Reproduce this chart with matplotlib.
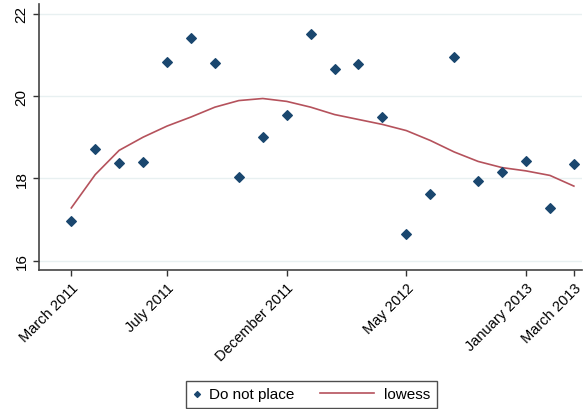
import matplotlib
matplotlib.use("Agg")
import matplotlib.pyplot as plt
from matplotlib.lines import Line2D
from matplotlib.legend_handler import HandlerLine2D

# Data (survey waves, in order)
idx = list(range(22))
do_not_place = [16.97, 18.72, 18.36, 18.39, 20.83, 21.41, 20.80, 18.03, 19.00, 19.53,
                21.50, 20.65, 20.77, 19.49, 16.64, 17.63, 20.95, 17.94, 18.15, 18.43,
                17.27, 18.34]
lowess = [17.28, 18.09, 18.68, 19.00, 19.27, 19.49, 19.73, 19.89, 19.94, 19.87,
          19.73, 19.55, 19.43, 19.31, 19.16, 18.92, 18.64, 18.41, 18.26, 18.18,
          18.07, 17.81]
tick_pos = [0, 4, 9, 14, 19, 21]
tick_labels = ["March 2011", "July 2011", "December 2011", "May 2012",
               "January 2013", "March 2013"]
y_ticks = [16, 18, 20, 22]

MARKER_C = '#1a476f'
LINE_C = '#b5525c'

plt.rcParams['font.family'] = ['Liberation Sans', 'DejaVu Sans']

fig = plt.figure(figsize=(5.83, 4.10), dpi=100)
ax = fig.add_axes([0.0669, 0.339, 0.931, 0.649])

for yv in y_ticks:
    ax.axhline(yv, color='#e8f0f1', lw=1.0, zorder=0)

sc = ax.scatter(idx, do_not_place, marker='D', s=24, color=MARKER_C, zorder=3,
                label='Do not place')
ln, = ax.plot(idx, lowess, color=LINE_C, lw=1.2, zorder=2, label='lowess')

ax.set_xlim(-1.35, 21.33)
ax.set_ylim(15.77, 22.24)
ax.set_yticks(y_ticks)
ax.set_yticklabels([str(v) for v in y_ticks], rotation=90, va='center', fontsize=11)
ax.set_xticks(tick_pos)
ax.set_xticklabels(tick_labels, rotation=45, ha='right', rotation_mode='anchor',
                   fontsize=10.5)
ax.tick_params(axis='both', direction='out', length=4, width=1, color='#333333')

for s in ['top', 'right']:
    ax.spines[s].set_visible(False)
for s in ['left', 'bottom']:
    ax.spines[s].set_color('#444444')
    ax.spines[s].set_linewidth(1.2)


class LongLine(HandlerLine2D):
    def create_artists(self, legend, orig_handle, xdescent, ydescent, width,
                       height, fontsize, trans):
        y = height / 2 - ydescent
        l = Line2D([-3.14 * fontsize - xdescent, width - 0.15 * fontsize - xdescent],
                   [y, y], color=orig_handle.get_color(),
                   lw=orig_handle.get_linewidth())
        l.set_transform(trans)
        return [l]


leg = fig.legend(handles=[sc, ln], labels=['Do not place', 'lowess'],
                 loc='center', bbox_to_anchor=(311.5/583, 1 - 395.5/410), ncol=2,
                 frameon=True, fancybox=False, fontsize=11, handlelength=0.6,
                 columnspacing=4.77, handletextpad=0.5, borderpad=0.4,
                 borderaxespad=0, markerscale=0.6, scatterpoints=1,
                 handler_map={Line2D: LongLine()})
leg.get_frame().set_edgecolor('#222222')
leg.get_frame().set_linewidth(1.0)

fig.savefig('out.png', dpi=100, facecolor='white')
